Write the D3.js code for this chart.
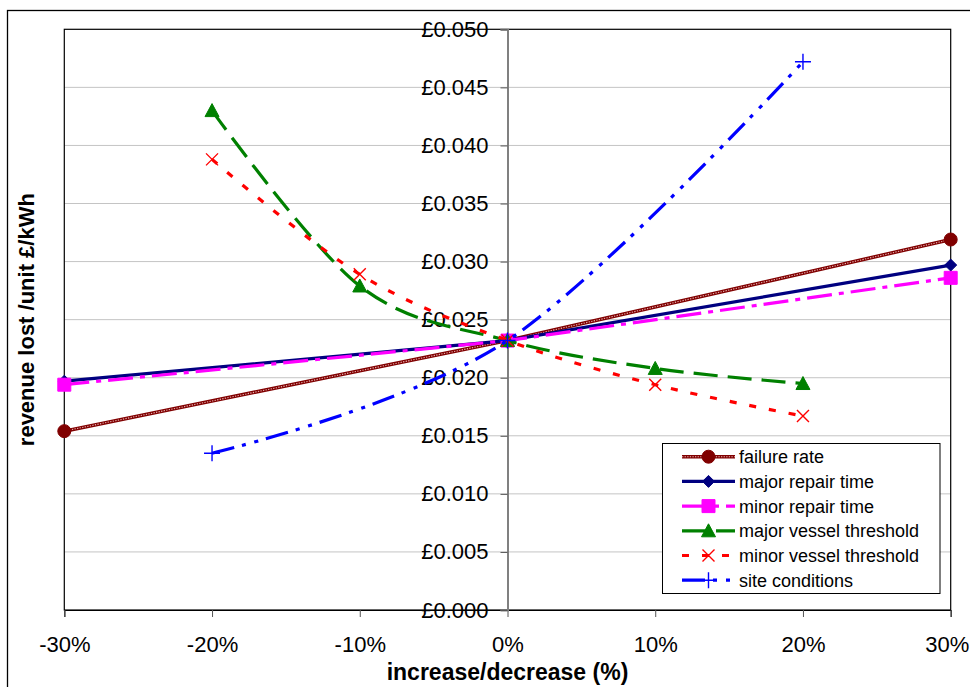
<!DOCTYPE html>
<html>
<head>
<meta charset="utf-8">
<script src="https://cdn.jsdelivr.net/npm/d3@7"></script>
<style>
  html, body { margin: 0; padding: 0; background: #fff; }
  svg { display: block; font-family: Arial, "Liberation Sans", sans-serif; }
</style>
</head>
<body>
<svg id="chart" width="970" height="687"></svg>
<script>
// Sensitivity of revenue lost per unit to changes in each input parameter
const pctTicks = [-30, -20, -10, 0, 10, 20, 30];
const costTicks = [0, 0.005, 0.010, 0.015, 0.020, 0.025, 0.030, 0.035, 0.040, 0.045, 0.050];

const repairX = [-30, 0, 30];
const failureRate = [0.0154, 0.0232, 0.0319];
const majorRepairTime = [0.0197, 0.0232, 0.0297];
const minorRepairTime = [0.0194, 0.0232, 0.0286];

const vesselX = [-20, -10, 0, 10, 20];
const majorVesselThreshold = [0.0430, 0.0279, 0.0232, 0.0208, 0.0195];
const minorVesselThreshold = [0.0388, 0.0289, 0.0232, 0.0194, 0.0167];

const siteX = [-20, 0, 20];
const siteConditions = [0.0135, 0.0232, 0.0472];

const seriesNames = ["failure rate", "major repair time", "minor repair time",
  "major vessel threshold", "minor vessel threshold", "site conditions"];

const svg = d3.select("#chart");
const plot = { left: 64.3, right: 950.7, top: 29.3, bottom: 610 };

const x = d3.scaleLinear().domain([-30, 30]).range([plot.left, plot.right]);
const y = d3.scaleLinear().domain([0, 0.05]).range([plot.bottom, plot.top]);

// outer chart frame
svg.append("rect").attr("x", 7.5).attr("y", 10.5).attr("width", 1000).attr("height", 1000)
  .attr("fill", "none").attr("stroke", "#000").attr("stroke-width", 1.3);

// horizontal gridlines
svg.append("g").selectAll("line").data(costTicks.filter(v => v > 0 && v < 0.05)).join("line")
  .attr("x1", plot.left).attr("x2", plot.right)
  .attr("y1", d => y(d)).attr("y2", d => y(d))
  .attr("stroke", "#c4c4c4").attr("stroke-width", 1);

// plot frame
svg.append("rect").attr("x", plot.left).attr("y", plot.top)
  .attr("width", plot.right - plot.left).attr("height", plot.bottom - plot.top)
  .attr("fill", "none").attr("stroke", "#000").attr("stroke-width", 1.2);

// x axis along the bottom
const xAxis = svg.append("g").attr("transform", `translate(0,${plot.bottom})`)
  .call(d3.axisBottom(x).tickValues(pctTicks).tickFormat(d => d + "%").tickSize(7).tickPadding(19));
xAxis.select(".domain").attr("stroke", "#000").attr("stroke-width", 1.2);
xAxis.selectAll(".tick line").attr("stroke", "#555");
xAxis.selectAll(".tick text").attr("font-size", 22).attr("fill", "#000")
  .attr("font-family", "Arial, 'Liberation Sans', sans-serif")
  .attr("dx", d => d === 30 ? -4 : 0);  // keep the last label inside the page edge

// y axis crossing at 0%
const yAxis = svg.append("g").attr("transform", `translate(${x(0)},0)`)
  .call(d3.axisLeft(y).tickValues(costTicks).tickFormat(d => "£" + d3.format(".3f")(d)).tickSize(7).tickPadding(12));
yAxis.select(".domain").attr("stroke", "#808080").attr("stroke-width", 2);
yAxis.selectAll(".tick line").attr("stroke", "#555");
yAxis.selectAll(".tick text").attr("font-size", 22).attr("fill", "#000")
  .attr("font-family", "Arial, 'Liberation Sans', sans-serif");

// axis titles
svg.append("text").attr("x", x(0)).attr("y", 680).attr("text-anchor", "middle")
  .attr("font-size", 23).attr("font-weight", "bold").text("increase/decrease (%)");
svg.append("text").attr("transform", `translate(33.5,${(plot.top + plot.bottom) / 2}) rotate(-90)`)
  .attr("text-anchor", "middle").attr("font-size", 22).attr("font-weight", "bold")
  .text("revenue lost /unit £/kWh");

// series definitions
const series = [
  { name: seriesNames[0], xs: repairX, ys: failureRate, color: "#800000", dash: null, curve: d3.curveLinear, marker: "circle", hatched: true },
  { name: seriesNames[1], xs: repairX, ys: majorRepairTime, color: "#000080", dash: null, curve: d3.curveLinear, marker: "diamond" },
  { name: seriesNames[2], xs: repairX, ys: minorRepairTime, color: "#FF00FF", dash: "25,7,5,7", curve: d3.curveLinear, marker: "square" },
  { name: seriesNames[3], xs: vesselX, ys: majorVesselThreshold, color: "#008000", dash: "24,10", curve: d3.curveCatmullRom.alpha(0), marker: "triangle" },
  { name: seriesNames[4], xs: vesselX, ys: minorVesselThreshold, color: "#FF0000", dash: "7,13", curve: d3.curveCatmullRom.alpha(0), marker: "x" },
  { name: seriesNames[5], xs: siteX, ys: siteConditions, color: "#0000FF", dash: "23,8,4,9,4,8", curve: d3.curveCatmullRom.alpha(0), marker: "plus" }
];

function markerPath(type) {
  switch (type) {
    case "circle": return d3.symbol(d3.symbolCircle, Math.PI * 6.5 * 6.5)();
    case "diamond": return "M0,-6L6,0L0,6L-6,0Z";
    case "square": return "M-6.5,-6.5H6.5V6.5H-6.5Z";
    case "triangle": return "M0,-7L7,6L-7,6Z";
    case "x": return "M-6,-6L6,6M-6,6L6,-6";
    case "plus": return "M-8,0H8M0,-8V8";
  }
}
function drawMarker(g, s, cx, cy) {
  const open = s.marker === "x" || s.marker === "plus";
  g.append("path").attr("d", markerPath(s.marker))
    .attr("transform", `translate(${cx},${cy})`)
    .attr("fill", open ? "none" : s.color)
    .attr("stroke", s.color).attr("stroke-width", open ? 1.4 : 1);
}
function drawStroke(g, s, d) {
  g.append("path").attr("d", d).attr("fill", "none")
    .attr("stroke", s.color).attr("stroke-width", s.hatched ? 3.6 : 3.2)
    .attr("stroke-dasharray", s.dash);
  if (s.hatched) {
    g.append("path").attr("d", d).attr("fill", "none")
      .attr("stroke", "#e8b4b4").attr("stroke-width", 1.1)
      .attr("stroke-dasharray", "1.3,1.3");
  }
}

const lineGen = d3.line().x(d => x(d[0])).y(d => y(d[1]));
const seriesG = svg.append("g");
series.forEach(s => {
  const pts = s.xs.map((v, i) => [v, s.ys[i]]);
  const g = seriesG.append("g");
  drawStroke(g, s, lineGen.curve(s.curve)(pts));
  pts.forEach(p => drawMarker(g, s, x(p[0]), y(p[1])));
});

// legend
const legend = svg.append("g");
legend.append("rect").attr("x", 662.5).attr("y", 443.5).attr("width", 277.5).attr("height", 150)
  .attr("fill", "#fff").attr("stroke", "#000").attr("stroke-width", 1);
series.forEach((s, i) => {
  const ly = 456.7 + i * 24.7;
  const g = legend.append("g");
  drawStroke(g, s, `M682,${ly}H735`);
  drawMarker(g, s, 708.5, ly);
  g.append("text").attr("x", 739).attr("y", ly).attr("dy", "0.36em")
    .attr("font-size", 18).attr("fill", "#000").text(s.name);
});
</script>
</body>
</html>
